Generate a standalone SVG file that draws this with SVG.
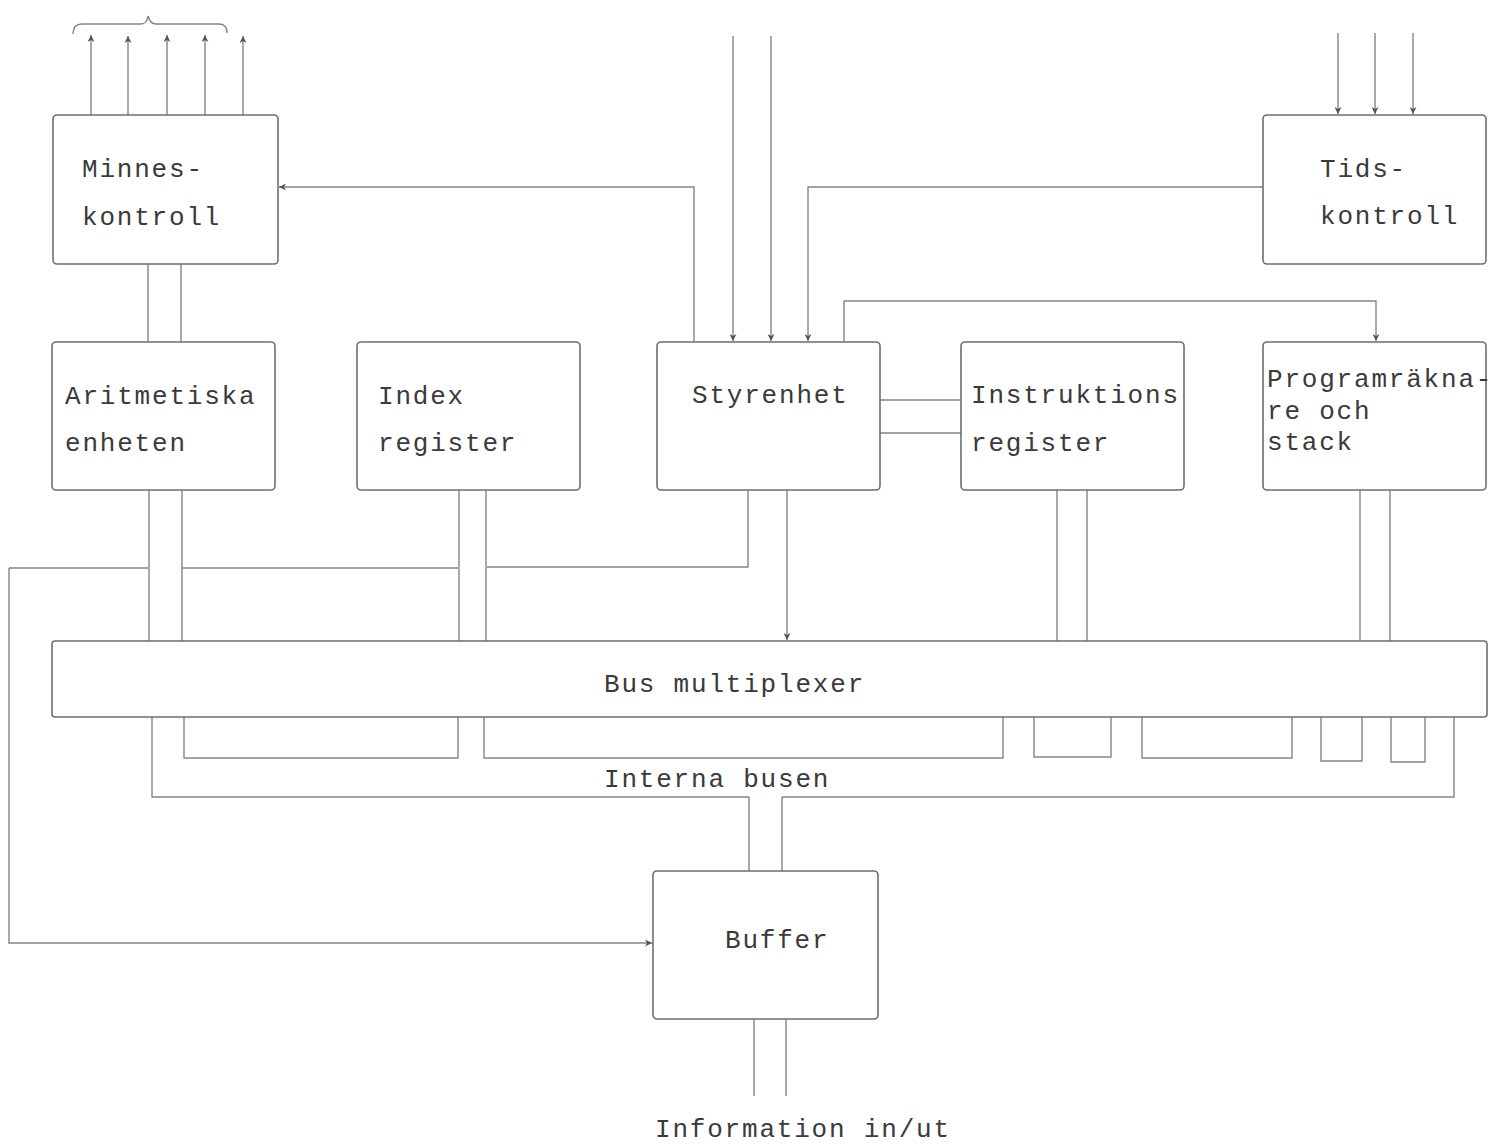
<svg xmlns="http://www.w3.org/2000/svg" width="1491" height="1144" viewBox="0 0 1491 1144">
<style>
.box{fill:#fff;stroke:#6e6e6e;stroke-width:1.6}
.ln{fill:none;stroke:#858585;stroke-width:1.4}
.arr{marker-end:url(#ah)}
text{font-family:"Liberation Mono","Courier New",monospace;font-size:26px;letter-spacing:1.8px;fill:#3a3a3a}
</style>
<defs>
<marker id="ah" viewBox="0 0 10 10" refX="10" refY="5" markerWidth="12" markerHeight="7" orient="auto" markerUnits="userSpaceOnUse">
<path d="M0,0 L10,5 L0,10 L3,5 z" fill="#555"/>
</marker>
</defs>
<rect width="1491" height="1144" fill="#fff"/>
<g id="connectors">
<path class="ln arr" d="M91,115 V35"/>
<path class="ln arr" d="M128,115 V36"/>
<path class="ln arr" d="M167,115 V35"/>
<path class="ln arr" d="M205,115 V35"/>
<path class="ln arr" d="M243,115 V36"/>
<path class="ln" d="M73,34 Q73,24 82,24 H141 Q147,24 148,16 Q150,24 156,24 H219 Q227,24 227,33"/>
<path class="ln arr" d="M694,342 V187 H279"/>
<path class="ln arr" d="M733,36 V341"/>
<path class="ln arr" d="M771,36 V341"/>
<path class="ln arr" d="M1263,187 H808 V341"/>
<path class="ln arr" d="M844,342 V301 H1376 V341"/>
<path class="ln arr" d="M1338,33 V114"/>
<path class="ln arr" d="M1375,33 V114"/>
<path class="ln arr" d="M1413,33 V114"/>
<path class="ln" d="M148,264 V342 M181,264 V342"/>
<path class="ln" d="M880,400 H961 M880,433 H961"/>
<path class="ln" d="M149,490 V641 M182,490 V641"/>
<path class="ln" d="M748,490 V567 H487 M458,568 H182 M148,568 H9"/>
<path class="ln arr" d="M9,568 V943 H652"/>
<path class="ln" d="M459,490 V641 M486,490 V641"/>
<path class="ln arr" d="M787,490 V640"/>
<path class="ln" d="M1057,490 V641 M1087,490 V641"/>
<path class="ln" d="M1360,490 V641 M1390,490 V641"/>
<path class="ln" d="M184,717 V758 H458 V717 M484,717 V758 H1003 V717 M1034,717 V757 H1111 V717 M1142,717 V758 H1292 V717 M1321,717 V761 H1362 V717 M1391,717 V762 H1425 V717"/>
<path class="ln" d="M152,717 V797 H749 M782,797 H1454 V717"/>
<path class="ln" d="M749,797 V871 M782,797 V871"/>
<path class="ln" d="M754,1019 V1096 M786,1019 V1096"/>
</g>
<g id="minneskontroll">
<rect class="box" x="53" y="115" width="225" height="149" rx="4"/>
<text x="82" y="177">Minnes-</text>
<text x="82" y="225">kontroll</text>
</g>
<g id="tidskontroll">
<rect class="box" x="1263" y="115" width="223" height="149" rx="4"/>
<text x="1320" y="177">Tids-</text>
<text x="1320" y="224">kontroll</text>
</g>
<g id="aritmetiska">
<rect class="box" x="52" y="342" width="223" height="148" rx="4"/>
<text x="65" y="404">Aritmetiska</text>
<text x="65" y="451">enheten</text>
</g>
<g id="index">
<rect class="box" x="357" y="342" width="223" height="148" rx="4"/>
<text x="378" y="404">Index</text>
<text x="378" y="451">register</text>
</g>
<g id="styrenhet">
<rect class="box" x="657" y="342" width="223" height="148" rx="4"/>
<text x="692" y="403">Styrenhet</text>
</g>
<g id="instruktions">
<rect class="box" x="961" y="342" width="223" height="148" rx="4"/>
<text x="971" y="403">Instruktions</text>
<text x="971" y="451">register</text>
</g>
<g id="programraknare">
<rect class="box" x="1263" y="342" width="223" height="148" rx="4"/>
<text x="1267" y="387">Programräkna-</text>
<text x="1267" y="419">re och</text>
<text x="1267" y="450">stack</text>
</g>
<g id="busmultiplexer">
<rect class="box" x="52" y="641" width="1435" height="76" rx="3"/>
<text x="604" y="692">Bus multiplexer</text>
</g>
<g id="internabusen">
<text x="604" y="787">Interna busen</text>
</g>
<g id="buffer">
<rect class="box" x="653" y="871" width="225" height="148" rx="4"/>
<text x="725" y="948">Buffer</text>
</g>
<g id="information">
<text x="655" y="1137">Information in/ut</text>
</g>
</svg>
